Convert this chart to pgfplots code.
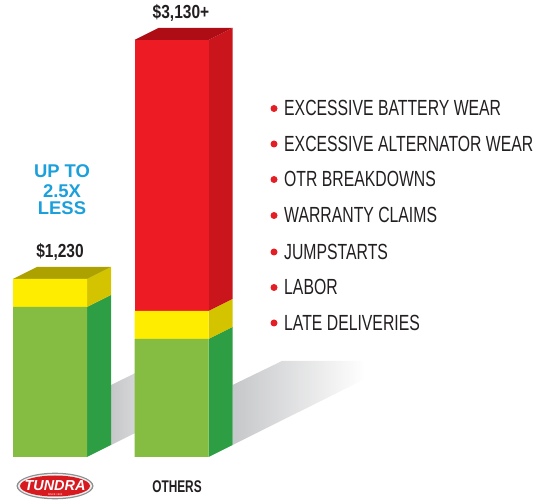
\documentclass[border=0pt]{standalone}
\usepackage{pgfplots}
\pgfplotsset{compat=1.18}
\usepackage{fontspec}
\setmainfont{Liberation Sans}
\newfontfamily\legfont{Liberation Sans}[FakeStretch=0.72]
\newfontfamily\lblfont{Liberation Sans}[FakeStretch=0.82]
\newfontfamily\othfont{Liberation Sans}[FakeStretch=0.70]
\definecolor{fgreen}{HTML}{84BD41}
\definecolor{sgreen}{HTML}{2E9E45}
\definecolor{fyellow}{HTML}{FFED00}
\definecolor{syellow}{HTML}{D4C400}
\definecolor{tyellow}{HTML}{ADA100}
\definecolor{fred}{HTML}{ED1C24}
\definecolor{sred}{HTML}{CB151D}
\definecolor{tred}{HTML}{AE0D16}
\definecolor{txt}{HTML}{231F20}
\definecolor{upblue}{HTML}{1BA0DB}
\definecolor{bred}{HTML}{E31E24}
\definecolor{shadowgray}{HTML}{C6C7C9}
\definecolor{logored}{HTML}{D71920}
\definecolor{logogray}{HTML}{8E8F91}
\definecolor{logoring}{HTML}{EDEDED}
\pgfplotsset{base/.style={x=1bp,y=1bp,xmin=0,xmax=543,ymin=-44,ymax=457,
  hide axis,clip=false,enlargelimits=false}}
\newcommand\li[2]{%
  \fill[bred] (axis cs:274,#2+7.5) circle[radius=3.5bp];
  \node[anchor=base west,text=txt,inner sep=0pt,font=\legfont\fontsize{22}{22}\selectfont] at (axis cs:284,#2) {#1};}
\begin{document}
\begin{tikzpicture}
% ---- shadows, side and top faces ----
\begin{axis}[base]
\addplot[draw=none,left color=shadowgray,right color=white] coordinates
  {(111,12) (200,56) (200,96) (160,96) (111,72)} -- cycle;
\addplot[draw=none,left color=shadowgray,right color=white] coordinates
  {(232.5,12) (365,78) (365,96) (282,96) (232.5,72)} -- cycle;
% left bar
\addplot[draw=none,fill=sgreen] coordinates {(87,0) (111,12) (111,162) (87,150)} -- cycle;
\addplot[draw=none,fill=syellow] coordinates {(87,150) (111,162) (111,190) (87,178)} -- cycle;
\addplot[draw=none,fill=tyellow] coordinates {(13,178) (37,190) (111,190) (87,178)} -- cycle;
% right bar
\addplot[draw=none,fill=sgreen] coordinates {(208.5,0) (232.5,12) (232.5,130) (208.5,118)} -- cycle;
\addplot[draw=none,fill=syellow] coordinates {(208.5,118) (232.5,130) (232.5,158) (208.5,146)} -- cycle;
\addplot[draw=none,fill=sred] coordinates {(208.5,146) (232.5,158) (232.5,429) (208.5,417)} -- cycle;
\addplot[draw=none,fill=tred] coordinates {(134.5,417) (158.5,429) (232.5,429) (208.5,417)} -- cycle;
\end{axis}
% ---- front faces (stacked bars) and text ----
\begin{axis}[base,ybar stacked,bar width=74]
\addplot[draw=none,fill=fgreen] coordinates {(50,150) (171.5,118)};
\addplot[draw=none,fill=fyellow] coordinates {(50,28) (171.5,28)};
\addplot[draw=none,fill=fred] coordinates {(50,0) (171.5,271)};
\coordinate (BL) at (axis cs:0,-44);
\coordinate (TR) at (axis cs:543,457);
\coordinate (LOGO) at (axis cs:55,-29);
% value labels
\node[anchor=base,text=txt,font=\lblfont\bfseries\fontsize{19}{19}\selectfont] at (axis cs:60,199) {\$1,230};
\node[anchor=base,text=txt,font=\lblfont\bfseries\fontsize{19}{19}\selectfont] at (axis cs:181,438) {\$3,130+};
% blue text
\node[anchor=base,text=upblue,font=\bfseries\fontsize{18.5}{19}\selectfont] at (axis cs:62,279) {UP TO};
\node[anchor=base,text=upblue,font=\bfseries\fontsize{18.5}{19}\selectfont] at (axis cs:62,259) {2.5X};
\node[anchor=base,text=upblue,font=\bfseries\fontsize{18.5}{19}\selectfont] at (axis cs:62,242) {LESS};
% category label
\node[anchor=base,text=txt,font=\othfont\bfseries\fontsize{17}{17}\selectfont] at (axis cs:177,-36) {OTHERS};
% list
\li{EXCESSIVE BATTERY WEAR}{341}
\li{EXCESSIVE ALTERNATOR WEAR}{305.5}
\li{OTR BREAKDOWNS}{270}
\li{WARRANTY CLAIMS}{234}
\li{JUMPSTARTS}{197.5}
\li{LABOR}{162}
\li{LATE DELIVERIES}{126.5}
\end{axis}
% logo (Tundra)
\fill[logogray] (LOGO) ellipse[x radius=38.5bp,y radius=13.3bp];
\fill[logoring] (LOGO) ellipse[x radius=37bp,y radius=12bp];
\fill[logored] (LOGO) ellipse[x radius=35bp,y radius=10.5bp];
\node[anchor=base,text=white,inner sep=0pt,font=\bfseries\itshape\fontsize{14.5}{15}\selectfont] at ([yshift=-5bp]LOGO) {TUNDRA};
\node[anchor=base,text=white,inner sep=0pt,font=\fontsize{2.6}{3}\selectfont] at ([yshift=-9.5bp]LOGO) {SINCE 1965};
\pgfresetboundingbox
\path (BL) rectangle (TR);
\end{tikzpicture}
\end{document}
